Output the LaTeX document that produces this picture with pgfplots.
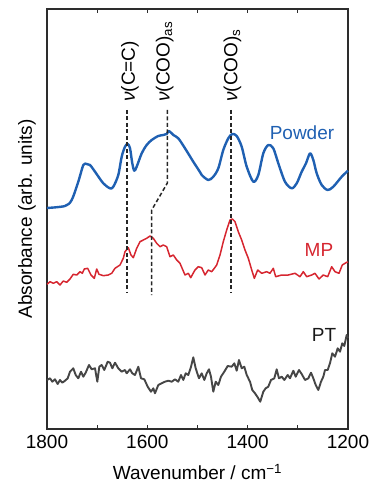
\documentclass[border=0pt]{standalone}
\usepackage{pgfplots}
\pgfplotsset{compat=1.18}
\usepackage{fontspec}
\setmainfont{Liberation Sans}
\definecolor{pblue}{RGB}{31,96,178}
\definecolor{mred}{RGB}{214,38,48}
\definecolor{ptgray}{RGB}{70,70,70}
\definecolor{axgray}{RGB}{45,45,45}
\begin{document}
\fontsize{19}{23}\selectfont
\begin{tikzpicture}
\begin{axis}[
 at={(0,0)}, anchor=south west,
 scale only axis, width=301pt, height=420pt,
 xmin=1200, xmax=1800, ymin=0, ymax=420,
 x dir=reverse,
 xtick={1200,1400,1600,1800},
 minor xtick={1300,1500,1700},
 ytick=\empty,
 tick align=inside,
 major tick length=4pt, minor tick length=4pt,
 axis line style={draw=axgray, line width=1.1pt},
 every tick/.style={draw=axgray, line width=1.1pt},
 every minor tick/.style={draw=axgray, line width=1.1pt},
 /pgf/number format/assume math mode=true,
 /pgf/number format/1000 sep={},
 xticklabel style={anchor=base, yshift=-19.3pt, inner sep=0pt},
 xlabel={Wavenumber / cm\textsuperscript{−1}},
 xlabel style={at={([yshift=-50.3pt]axis description cs:0.5,0)}, anchor=base, inner sep=0pt},
 ylabel={Absorbance (arb. units)},
 ylabel style={at={([xshift=-20pt]axis description cs:0,0.5)}, anchor=center, inner sep=0pt},
 clip=false,
]
% Powder
\addplot[pblue, line width=2.4pt, line join=round, smooth, tension=0.5] coordinates {
(1800,221) (1764.1,223) (1750.8,229) (1737.6,247.3) (1727.6,264) (1720.9,265) (1714.3,264) (1704.3,257.3) (1687.8,245.7) (1674.4,240.7) (1667.8,242.3) (1657.9,254) (1651.1,272.3) (1644.5,282.3) (1639.1,285) (1634.5,280.7) (1630.0,265.7) (1626.0,258.3) (1621.2,262.3) (1611.2,275.7) (1601.3,284) (1591.3,289) (1578.1,293) (1568.2,294) (1561.4,295) (1556.8,298) (1548.2,294) (1538.3,290.7) (1524.9,280.7) (1508.4,267.3) (1497.0,258.5) (1491.6,254) (1478.5,249) (1468.5,252.3) (1458.5,260.7) (1448.6,279) (1438.6,290.7) (1430.6,295) (1421.8,293) (1411.9,282.3) (1401.9,262.3) (1388.8,247.3) (1378.8,254) (1368.8,275.7) (1358.9,284) (1348.9,280.7) (1338.9,265.7) (1325.6,247.3) (1312.2,240.7) (1302.2,245.7) (1292.3,257.3) (1283.7,265.7) (1275.7,275.7) (1269.1,269) (1262.4,255.7) (1252.4,244) (1240.5,239) (1229.3,242.3) (1212.5,252.3) (1200,258.3)
};
% MP
\addplot[mred, line width=1.5pt, line join=round] coordinates {
(1800,144.7) (1794.0,147.3) (1787.4,145.7) (1780.7,147.3) (1774.1,144) (1767.5,148) (1760.7,146.7) (1754.2,150) (1747.6,154.7) (1740.8,154) (1734.2,157.3) (1729.6,155.7) (1725.6,160) (1718.9,160.7) (1712.3,154) (1705.7,150.7) (1700.9,160) (1696.3,154.7) (1687.8,153.3) (1677.8,154) (1671.0,155.7) (1664.4,160.7) (1654.5,164) (1647.9,170.7) (1644.5,177.3) (1637.9,181.3) (1632.6,174) (1627.9,171.3) (1621.2,180.7) (1614.6,187.3) (1608.0,189) (1601.3,190.7) (1594.7,193) (1588.1,190.7) (1581.3,185.7) (1574.7,182.3) (1568.2,184) (1561.4,182.3) (1554.8,172.3) (1548.2,174) (1541.4,169) (1534.9,165.7) (1524.9,154) (1518.3,155.7) (1513.5,151.3) (1505.0,159) (1498.4,162.3) (1491.6,161.3) (1485.0,154) (1478.5,159) (1471.7,157.3) (1466.5,160.7) (1461.7,164) (1455.1,174) (1448.6,187.3) (1441.8,199) (1435.2,209) (1430.6,210) (1425.2,207.3) (1418.7,197.3) (1411.9,189) (1405.3,179) (1398.7,170.7) (1391.9,159) (1386.7,150.7) (1380.0,159) (1372.0,155.7) (1362.1,157.3) (1355.5,155.7) (1348.9,160.7) (1344.1,152.3) (1332.1,154) (1319.0,154) (1305.6,155.7) (1295.7,152.3) (1289.1,157.3) (1282.3,152.3) (1272.3,154) (1265.8,155.7) (1257.8,150) (1249.2,154) (1240.5,152.3) (1232.5,162.3) (1225.9,157.3) (1217.9,155.7) (1211.4,164) (1202.6,166.7) (1200,167)
};
% PT
\addplot[ptgray, line width=1.9pt, line join=round] coordinates {
(1800,49) (1794.0,50.7) (1789.4,47.3) (1784.1,49.7) (1778.7,45) (1774.1,49) (1769.5,46.3) (1764.1,48.3) (1758.7,50.7) (1754.2,57.3) (1747.6,60.7) (1742.8,54) (1737.6,50.7) (1732.2,57.3) (1727.6,52.3) (1722.9,56.3) (1716.3,64) (1710.9,59.7) (1704.3,60.7) (1699.7,47.3) (1695.7,62.3) (1691.0,64) (1685.8,59) (1679.0,67.3) (1674.4,66.3) (1669.8,60.7) (1664.4,66.3) (1657.9,60.7) (1651.1,57.3) (1644.5,59) (1641.1,55.7) (1634.5,59.7) (1630.0,55.7) (1624.6,54) (1618.0,62.3) (1612.6,50.7) (1606.0,49.7) (1599.3,42.3) (1592.7,37.3) (1588.1,40.7) (1584.7,35.7) (1578.1,44) (1571.4,45.7) (1564.8,47.3) (1558.2,48.3) (1551.4,47.3) (1544.8,49.7) (1538.3,47.3) (1532.9,54) (1528.3,49) (1523.5,55.7) (1518.3,54) (1512.9,62.3) (1508.4,71.7) (1503.6,60.7) (1497.0,50.7) (1491.6,55.7) (1486.4,49) (1481.6,55.7) (1477.1,59.7) (1473.1,52.3) (1468.5,37.3) (1463.7,47.3) (1458.5,44) (1453.2,52.3) (1446.6,57.3) (1439.8,63) (1431.8,62.3) (1426.6,65.7) (1421.8,58.3) (1417.3,69) (1411.9,60.7) (1406.7,62.3) (1401.9,54) (1395.3,47.3) (1390.8,39) (1385.4,35.7) (1380.0,31.7) (1374.9,27.3) (1368.8,37.3) (1364.1,40.7) (1358.9,42.3) (1353.5,49) (1346.9,50.7) (1342.1,59.7) (1337.6,50.7) (1332.1,52.3) (1326.9,49) (1320.2,54) (1315.6,50.7) (1309.0,58.3) (1304.2,52.3) (1297.7,59) (1292.3,55) (1285.7,49) (1279.1,50.7) (1273.7,56.3) (1269.1,50.7) (1264.4,44) (1259.2,39) (1253.8,47.3) (1249.2,52.3) (1245.8,59) (1240.5,59) (1235.9,65.7) (1231.3,75.7) (1225.9,72.3) (1220.5,80.7) (1215.9,77.3) (1211.4,85.7) (1207.4,83) (1202.6,94) (1200,91)
};
% dashed marker lines
\addplot[black!85, line width=1.5pt, dash pattern=on 4pt off 2.5pt] coordinates {(1641,319) (1641,136)};
\addplot[black!85, line width=1.5pt, dash pattern=on 4pt off 2.5pt] coordinates {(1560,319) (1560,246) (1591.3,219) (1591.3,134)};
\addplot[black!85, line width=1.5pt, dash pattern=on 4pt off 2.5pt] coordinates {(1433,319) (1433,136)};
% labels
\node[rotate=90, anchor=base west, inner sep=0pt] at (axis cs:1624.6,327) {\textit{ν}(C=C)};
\node[rotate=90, anchor=base west, inner sep=0pt] at (axis cs:1555.8,327) {\textit{ν}(COO)\textsubscript{as}};
\node[rotate=90, anchor=base west, inner sep=0pt] at (axis cs:1420.3,327) {\textit{ν}(COO)\textsubscript{s}};
\node[text=pblue, inner sep=0pt] at (axis cs:1291.7,296) {Powder};
\node[text=mred, inner sep=0pt] at (axis cs:1257.8,179) {MP};
\node[text=black!90, inner sep=0pt] at (axis cs:1247.8,94) {PT};
\end{axis}
\path (-47pt,-54pt) rectangle (323pt,429pt);
\end{tikzpicture}
\end{document}
